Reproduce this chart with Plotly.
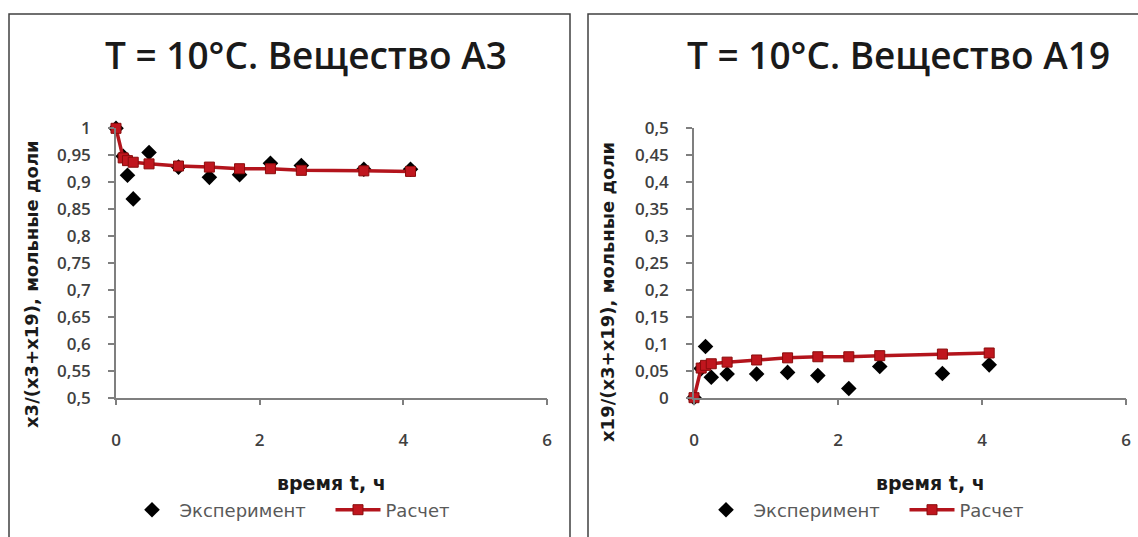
import plotly.graph_objects as go

# ---- data ----
t_hours = [0, 0.1, 0.16, 0.24, 0.46, 0.87, 1.3, 1.72, 2.15, 2.58, 3.45, 4.1]

a3_experiment = [1.0, 0.948, 0.913, 0.869, 0.955, 0.928, 0.909, 0.914, 0.935, 0.931, 0.924, 0.924]
a3_calc = [1.0, 0.945, 0.94, 0.937, 0.934, 0.93, 0.928, 0.925, 0.925, 0.922, 0.921, 0.92]

a19_experiment = [0.0, 0.054, 0.095, 0.038, 0.044, 0.044, 0.047, 0.041, 0.017, 0.058, 0.045, 0.061]
a19_calc = [0.0, 0.055, 0.06, 0.063, 0.066, 0.07, 0.074, 0.076, 0.076, 0.078, 0.081, 0.083]

titles = ["T = 10°C. Вещество A3", "T = 10°C. Вещество A19"]
y_titles = ["x3/(x3+x19), мольные доли", "x19/(x3+x19), мольные доли"]
x_title = "время t, ч"
series_names = ["Эксперимент", "Расчет"]

W, H = 1138, 537

exp_marker = dict(symbol="diamond", size=12, color="#000000", line=dict(width=0))
calc_line = dict(color="#b3141c", width=3.5)
calc_marker = dict(symbol="square", size=10, color="#c0161e", line=dict(color="#8a0c0c", width=1))

fig = go.Figure()

fig.add_trace(go.Scatter(x=t_hours, y=a3_experiment, mode="markers", name=series_names[0],
                         marker=exp_marker, xaxis="x", yaxis="y", legend="legend",
                         cliponaxis=False))
fig.add_trace(go.Scatter(x=t_hours, y=a3_calc, mode="lines+markers", name=series_names[1],
                         line=calc_line, marker=calc_marker, xaxis="x", yaxis="y",
                         legend="legend", cliponaxis=False))
fig.add_trace(go.Scatter(x=t_hours, y=a19_experiment, mode="markers", name=series_names[0],
                         marker=exp_marker, xaxis="x2", yaxis="y2", legend="legend2",
                         cliponaxis=False))
fig.add_trace(go.Scatter(x=t_hours, y=a19_calc, mode="lines+markers", name=series_names[1],
                         line=calc_line, marker=calc_marker, xaxis="x2", yaxis="y2",
                         legend="legend2", cliponaxis=False))

tick_font = dict(family="Open Sans", size=17, color="#404040", weight=600)
y_title_font = dict(family="DejaVu Sans", size=18, color="#1a1a1a", weight=700)
x_title_font = dict(family="DejaVu Sans", size=19, color="#1a1a1a", weight=700)

def xaxis_cfg(domain, anchor):
    return dict(domain=domain, range=[0, 6], dtick=2, tick0=0, showgrid=False, zeroline=False,
                showline=True, linecolor="#7f7f7f", linewidth=1.5, ticks="outside",
                ticklen=6, tickcolor="#7f7f7f", tickwidth=1.5, tickfont=tick_font,
                anchor=anchor, automargin=False, ticklabelstandoff=20)

def yaxis_cfg(domain, rng, anchor):
    return dict(domain=domain, range=rng, dtick=0.05, tick0=0, showgrid=False, zeroline=False,
                showline=True, linecolor="#7f7f7f", linewidth=1.5, ticks="outside",
                ticklen=6, tickcolor="#7f7f7f", tickwidth=1.5, tickfont=tick_font,
                anchor=anchor, automargin=False, ticklabelstandoff=14)

y_dom = [(H - 397.7) / H, (H - 128.3) / H]

legend_common = dict(orientation="h", y=(H - 510) / H, xanchor="left", yanchor="middle",
                     font=dict(family="DejaVu Sans", size=18, color="#595959"),
                     bgcolor="rgba(0,0,0,0)", itemwidth=45, entrywidth=146,
                     entrywidthmode="pixels", itemclick=False, borderwidth=0)

fig.update_layout(
    template="none",
    width=W, height=H, autosize=False,
    margin=dict(l=0, r=0, t=0, b=0, pad=0, autoexpand=False),
    paper_bgcolor="white", plot_bgcolor="white",
    separators=", ",
    showlegend=True,
    xaxis=xaxis_cfg([116 / W, 547 / W], "y"),
    yaxis=yaxis_cfg(y_dom, [0.5, 1.0], "x"),
    xaxis2=xaxis_cfg([694 / W, 1126 / W], "y2"),
    yaxis2=yaxis_cfg(y_dom, [0, 0.5], "x2"),
    legend=dict(legend_common, x=124.5 / W),
    legend2=dict(legend_common, x=698.5 / W),
)

# chart titles
for cx, txt in [(306, titles[0]), (898, titles[1])]:
    fig.add_annotation(text=txt, x=cx / W, y=(H - 55) / H, xref="paper", yref="paper",
                       showarrow=False, xanchor="center", yanchor="middle",
                       font=dict(family="Open Sans", size=37, color="#1a1a1a", weight=600))

# horizontal axis titles
for cx in [331, 930]:
    fig.add_annotation(text=x_title, x=cx / W, y=(H - 483) / H, xref="paper", yref="paper",
                       showarrow=False, xanchor="center", yanchor="middle",
                       font=x_title_font)

# vertical axis titles
for cx, cy, txt in [(31, 284, y_titles[0]), (607, 292, y_titles[1])]:
    fig.add_annotation(text=txt, x=cx / W, y=(H - cy) / H, xref="paper", yref="paper",
                       showarrow=False, textangle=-90, xanchor="center", yanchor="middle",
                       font=y_title_font)

# chart frames
fig.add_shape(type="rect", xref="paper", yref="paper", x0=9 / W, x1=570 / W,
              y0=-0.02, y1=(H - 14) / H, line=dict(color="#404040", width=1.5))
fig.add_shape(type="rect", xref="paper", yref="paper", x0=588 / W, x1=1.02,
              y0=-0.02, y1=(H - 14) / H, line=dict(color="#404040", width=1.5))

fig.write_html("out.html", config={"displayModeBar": False},
               post_script="document.body.style.margin='0';")
